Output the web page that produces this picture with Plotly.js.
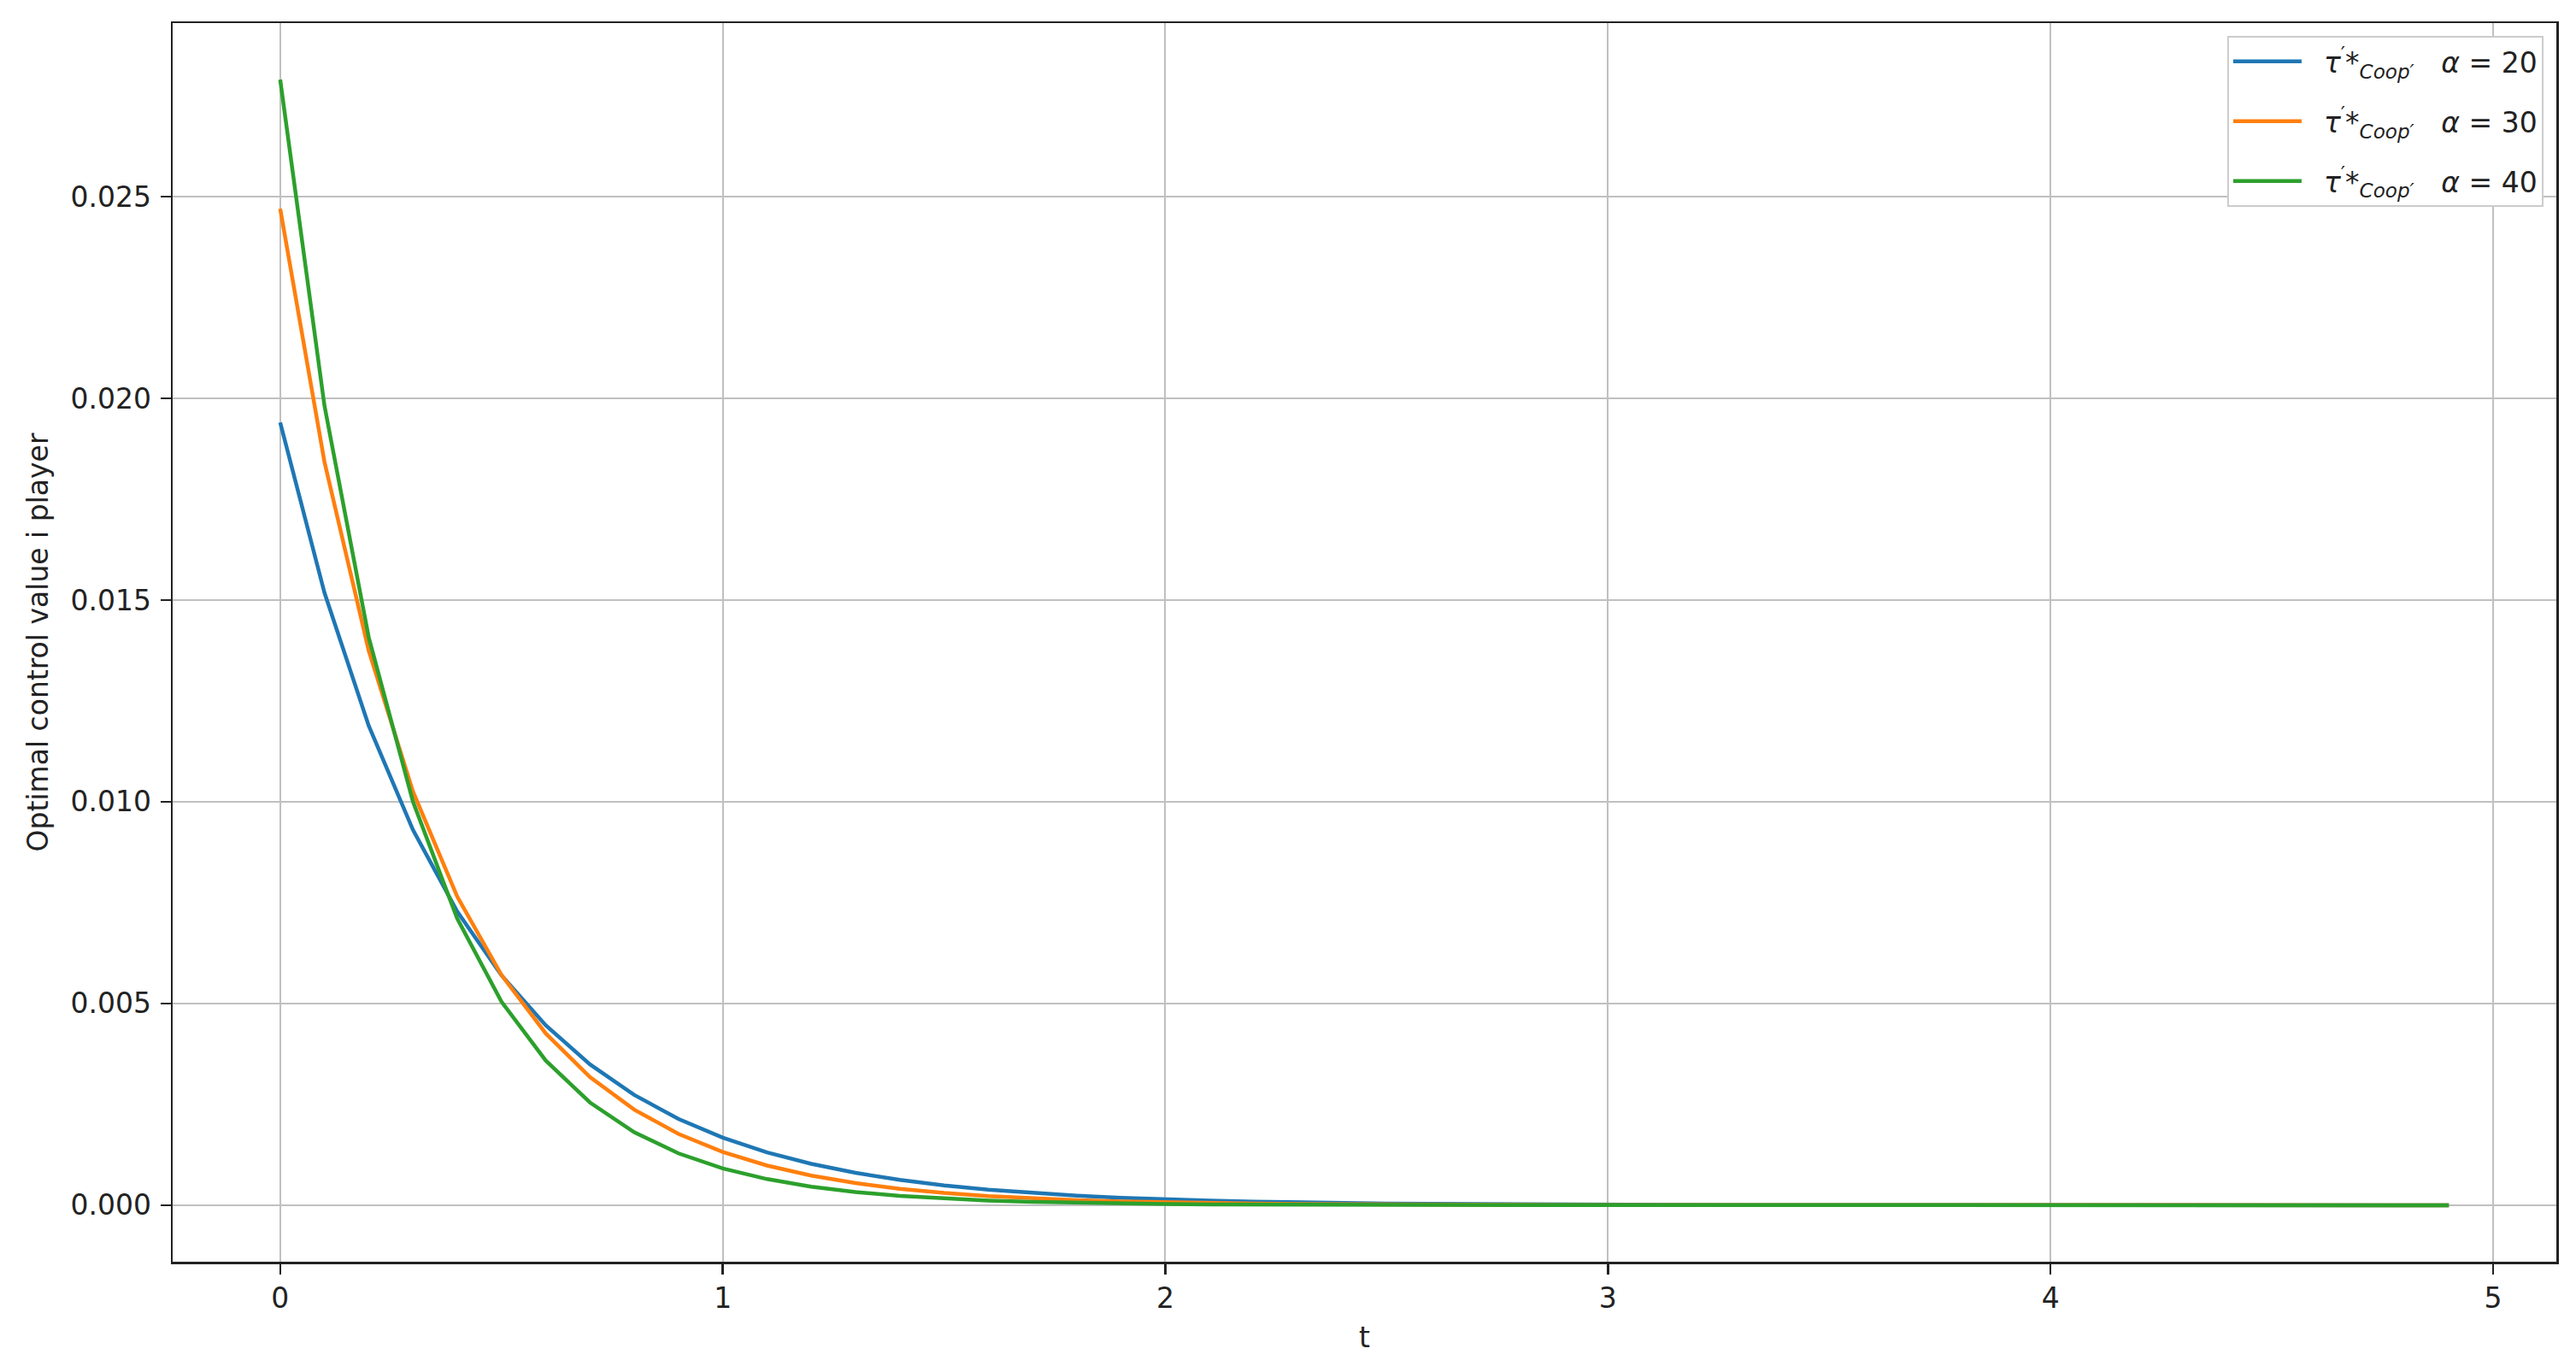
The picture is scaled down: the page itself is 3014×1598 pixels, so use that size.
<!DOCTYPE html>
<html>
<head>
<meta charset="utf-8">
<script src="https://cdn.plot.ly/plotly-3.0.1.min.js"></script>
<style>
  html, body { margin: 0; padding: 0; background: #fff; }
  #chart { width: 3014px; height: 1598px; }
</style>
</head>
<body>
<div id="chart"></div>
<script>
// time grid, step 0.1
let tValues = [0.0, 0.1, 0.2, 0.3, 0.4, 0.5, 0.6, 0.7, 0.8, 0.9,
               1.0, 1.1, 1.2, 1.3, 1.4, 1.5, 1.6, 1.7, 1.8, 1.9,
               2.0, 2.1, 2.2, 2.3, 2.4, 2.5, 2.6, 2.7, 2.8, 2.9,
               3.0, 3.1, 3.2, 3.3, 3.4, 3.5, 3.6, 3.7, 3.8, 3.9,
               4.0, 4.1, 4.2, 4.3, 4.4, 4.5, 4.6, 4.7, 4.8, 4.9];

// optimal control, alpha = 20
let alpha20 = [0.019400, 0.015184, 0.011885, 0.009302, 0.007281, 0.005699, 0.004461, 0.003491, 0.002733, 0.002139,
               0.001674, 0.001310, 0.001026, 0.000803, 0.000628, 0.000492, 0.000385, 0.000301, 0.000236, 0.000185,
               0.000144, 0.000113, 0.000089, 0.000069, 0.000054, 0.000042, 0.000033, 0.000026, 0.000020, 0.000016,
               0.000012, 0.000010, 0.000008, 0.000006, 0.000005, 0.000004, 0.000003, 0.000002, 0.000002, 0.000001,
               0.000001, 0.000001, 0.000001, 0.000000, 0.000000, 0.000000, 0.000000, 0.000000, 0.000000, 0.000000];

// alpha = 30
let alpha30 = [0.024700, 0.018426, 0.013746, 0.010255, 0.007650, 0.005707, 0.004258, 0.003176, 0.002369, 0.001768,
               0.001319, 0.000984, 0.000734, 0.000548, 0.000408, 0.000305, 0.000227, 0.000170, 0.000127, 0.000094,
               0.000070, 0.000053, 0.000039, 0.000029, 0.000022, 0.000016, 0.000012, 0.000009, 0.000007, 0.000005,
               0.000004, 0.000003, 0.000002, 0.000002, 0.000001, 0.000001, 0.000001, 0.000000, 0.000000, 0.000000,
               0.000000, 0.000000, 0.000000, 0.000000, 0.000000, 0.000000, 0.000000, 0.000000, 0.000000, 0.000000];

// alpha = 40
let alpha40 = [0.027900, 0.019819, 0.014078, 0.010001, 0.007104, 0.005046, 0.003585, 0.002546, 0.001809, 0.001285,
               0.000913, 0.000648, 0.000461, 0.000327, 0.000232, 0.000165, 0.000117, 0.000083, 0.000059, 0.000042,
               0.000030, 0.000021, 0.000015, 0.000011, 0.000008, 0.000006, 0.000004, 0.000003, 0.000002, 0.000002,
               0.000001, 0.000001, 0.000000, 0.000000, 0.000000, 0.000000, 0.000000, 0.000000, 0.000000, 0.000000,
               0.000000, 0.000000, 0.000000, 0.000000, 0.000000, 0.000000, 0.000000, 0.000000, 0.000000, 0.000000];

let alphaLabels = ["20", "30", "40"];
let seriesList = [alpha20, alpha30, alpha40];
let colors = ["#1f77b4", "#ff7f0e", "#2ca02c"];

let sp = "\u00a0";
function legendName(a) {
    return sp + sp + "<i>τ</i><sup>′</sup>*<sub><i>Coop′</i></sub>" + sp + sp + sp + "<i>α</i>" + sp + "=" + sp + a;
}

let data = [];
for (let i = 0; i < seriesList.length; i++) {
    data.push({
        x: tValues,
        y: seriesList[i],
        mode: 'lines',
        type: 'scatter',
        name: legendName(alphaLabels[i]),
        legendgroup: 'g' + i,
        hoverinfo: 'skip',
        line: { color: colors[i], width: 4.5 }
    });
}

let axisCommon = {
    showline: true,
    mirror: true,
    linecolor: '#222222',
    linewidth: 2.5,
    ticks: 'outside',
    ticklen: 12,
    tickwidth: 2.5,
    tickcolor: '#222222',
    showgrid: true,
    gridcolor: '#c0c0c0',
    gridwidth: 2,
    zeroline: false,
    tickfont: { family: 'DejaVu Sans', size: 33, color: '#222222' }
};

let layout = {
    width: 3014,
    height: 1598,
    margin: { l: 202, r: 23, t: 27, b: 122 },
    paper_bgcolor: '#ffffff',
    plot_bgcolor: '#ffffff',
    font: { family: 'DejaVu Sans', size: 33, color: '#222222' },
    xaxis: Object.assign({}, axisCommon, {
        range: [-0.243, 5.143],
        dtick: 1,
        tick0: 0,
        title: { text: 't', font: { family: 'DejaVu Sans', size: 33, color: '#222222' }, standoff: 16 }
    }),
    yaxis: Object.assign({}, axisCommon, {
        range: [-0.0014, 0.0293],
        dtick: 0.005,
        tick0: 0,
        tickformat: '.3f',
        ticklabelstandoff: 4,
        title: { text: 'Optimal control value i player', font: { family: 'DejaVu Sans', size: 33, color: '#222222' }, standoff: 16 }
    }),
    legend: {
        x: 0.9946,
        y: 0.9897,
        xanchor: 'right',
        yanchor: 'top',
        bgcolor: '#ffffff',
        bordercolor: '#cccccc',
        borderwidth: 2,
        itemwidth: 80,
        tracegroupgap: 24,
        font: { family: 'DejaVu Sans', size: 33, color: '#222222' }
    },
    showlegend: true
};

Plotly.newPlot('chart', data, layout, { displayModeBar: false, staticPlot: true });
</script>
</body>
</html>
